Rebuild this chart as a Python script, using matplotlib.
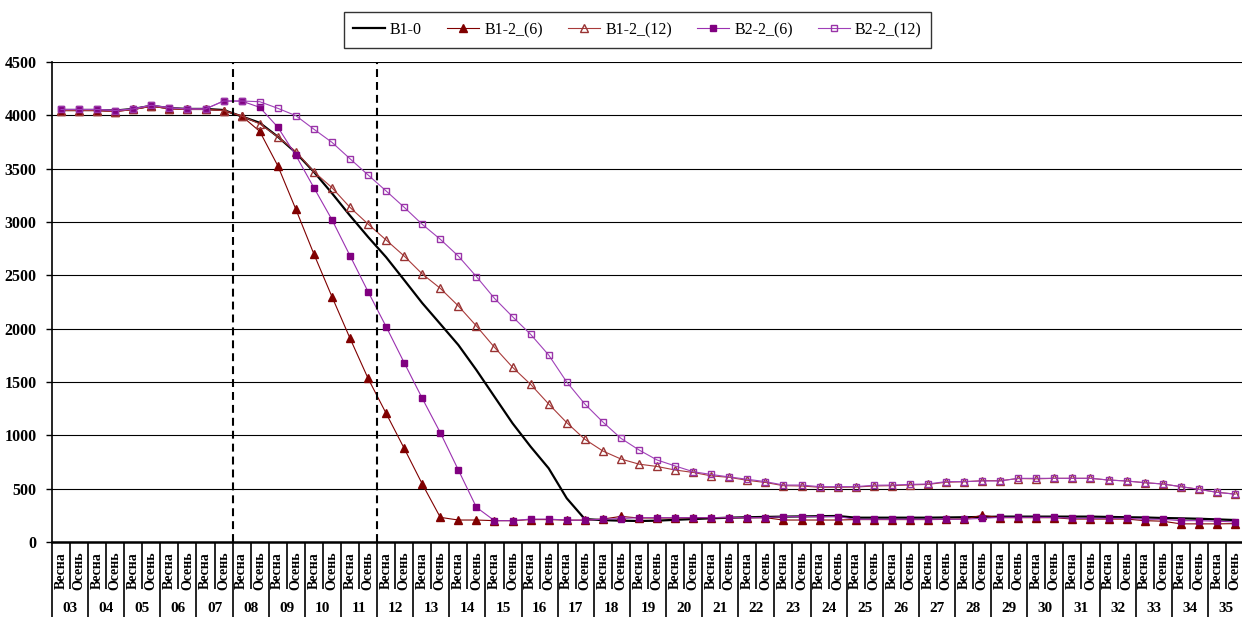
import matplotlib
matplotlib.use("Agg")
import matplotlib.pyplot as plt
from matplotlib.transforms import blended_transform_factory

# ---------------- data ----------------
years = ['03', '04', '05', '06', '07', '08', '09', '10', '11', '12', '13',
         '14', '15', '16', '17', '18', '19', '20', '21', '22', '23', '24',
         '25', '26', '27', '28', '29', '30', '31', '32', '33', '34', '35']
seasons = ['Весна', 'Осень']

b1_0 = [4050, 4050, 4050, 4045, 4060, 4090, 4068, 4060, 4060, 4050,
        3990, 3930, 3800, 3650, 3470, 3270, 3060, 2860, 2670, 2456,
        2240, 2044, 1847, 1612, 1362, 1113, 894, 691, 410, 215,
        205, 200, 197, 200, 208, 215, 222, 228, 232, 235,
        238, 240, 242, 244, 228, 228, 228, 228, 228, 230,
        232, 235, 238, 238, 238, 238, 238, 238, 235, 232,
        230, 225, 222, 218, 212, 206]

b1_2_6 = [4045, 4045, 4045, 4035, 4055, 4085, 4062, 4055, 4055, 4045,
          3994, 3850, 3528, 3120, 2700, 2300, 1910, 1534, 1206, 878,
          544, 231, 206, 206, 200, 200, 210, 210, 205, 205,
          215, 240, 225, 225, 225, 228, 228, 228, 228, 228,
          206, 206, 206, 206, 210, 210, 210, 210, 210, 212,
          215, 250, 228, 228, 228, 228, 215, 215, 215, 215,
          200, 195, 170, 170, 170, 172]

b1_2_12 = [4045, 4045, 4045, 4035, 4055, 4085, 4062, 4055, 4055, 4045,
           3994, 3920, 3800, 3660, 3472, 3322, 3137, 2981, 2831, 2681,
           2513, 2378, 2213, 2025, 1825, 1638, 1478, 1294, 1119, 963,
           853, 778, 730, 708, 675, 652, 620, 606, 578, 558,
           528, 525, 513, 513, 515, 525, 528, 535, 540, 560,
           565, 575, 575, 595, 592, 597, 597, 597, 581, 572,
           556, 544, 519, 494, 466, 450]

b2_2_6 = [4055, 4055, 4055, 4045, 4060, 4095, 4070, 4060, 4060, 4134,
          4134, 4075, 3890, 3625, 3322, 3022, 2684, 2347, 2019, 1681,
          1347, 1025, 675, 325, 200, 200, 215, 215, 205, 205,
          213, 220, 228, 228, 228, 228, 228, 228, 228, 228,
          238, 238, 238, 238, 213, 213, 213, 213, 213, 213,
          213, 222, 231, 231, 231, 231, 222, 222, 222, 222,
          213, 213, 200, 200, 195, 188]

b2_2_12 = [4055, 4055, 4055, 4045, 4060, 4095, 4070, 4060, 4060, 4134,
           4134, 4128, 4066, 3997, 3870, 3747, 3593, 3441, 3291, 3138,
           2978, 2838, 2680, 2488, 2284, 2112, 1947, 1753, 1500, 1294,
           1125, 972, 863, 769, 713, 659, 633, 610, 588, 566,
           534, 534, 519, 519, 519, 532, 534, 540, 544, 566,
           566, 572, 572, 597, 597, 597, 597, 597, 581, 572,
           556, 544, 519, 494, 466, 448]

series_names = ['B1-0', 'B1-2_(6)', 'B1-2_(12)', 'B2-2_(6)', 'B2-2_(12)']
phase_bounds = [9.5, 17.5]   # dashed vertical separators (category boundaries)
y_ticks = [0, 500, 1000, 1500, 2000, 2500, 3000, 3500, 4000, 4500]

# ---------------- figure ----------------
W, H = 1242, 617
fig = plt.figure(figsize=(W / 100, H / 100), dpi=100)
serif = ['Liberation Serif', 'DejaVu Serif']
plt.rcParams['font.family'] = serif

left_px, right_px, top_px, bot_px = 52, 1244, 62, 542
ax = fig.add_axes([left_px / W, (H - bot_px) / H,
                   (right_px - left_px) / W, (bot_px - top_px) / H])

n = len(years) * 2
x = list(range(n))

ax.plot(x, b1_0, color='black', lw=1.6, label=series_names[0], zorder=3)
ax.plot(x, b1_2_6, color='#800000', lw=0.8, marker='^', ms=6,
        mfc='#800000', mec='#800000', label=series_names[1], zorder=4)
ax.plot(x, b1_2_12, color='#A83A3A', lw=0.8, marker='^', ms=6,
        mfc='none', mec='#993333', mew=1.0, label=series_names[2], zorder=5)
ax.plot(x, b2_2_6, color='#9B30B0', lw=0.8, marker='s', ms=5,
        mfc='#800080', mec='#800080', label=series_names[3], zorder=6)
ax.plot(x, b2_2_12, color='#A040B8', lw=0.8, marker='s', ms=5,
        mfc='none', mec='#9933A8', mew=1.0, label=series_names[4], zorder=7)

for b in phase_bounds:
    ax.axvline(b, color='black', lw=1.5, ls=(0, (3.8, 2.4)), zorder=8)

ax.set_xlim(-0.5, n - 0.5)
ax.set_ylim(0, 4500)
ax.set_yticks(y_ticks)
ax.set_yticklabels([str(v) for v in y_ticks], fontweight='bold', fontsize=11.5)
ax.yaxis.grid(True, color='black', lw=0.8)
ax.set_axisbelow(True)
ax.tick_params(axis='y', direction='out', length=4, width=1, pad=7)

for s in ['top', 'right']:
    ax.spines[s].set_visible(False)
ax.spines['left'].set_linewidth(1.2)
ax.spines['bottom'].set_linewidth(1.8)

# x ticks: category separators (year boundaries long, season boundaries short)
major = [2 * k - 0.5 for k in range(len(years) + 1)]
minor = [2 * k + 0.5 for k in range(len(years))]
ax.set_xticks(major)
ax.set_xticklabels([])
ax.set_xticks(minor, minor=True)
ax.tick_params(axis='x', which='major', direction='out', length=60, width=1.2)
ax.tick_params(axis='x', which='minor', direction='out', length=34, width=1.2)

trans = blended_transform_factory(ax.transData, ax.transAxes)
for i in range(n):
    ax.text(i, -0.059, seasons[i % 2], rotation=90, ha='center', va='center',
            fontsize=10, fontweight='bold', transform=trans, clip_on=False)
for k, yr in enumerate(years):
    ax.text(2 * k + 0.5, -0.138, yr, ha='center', va='center',
            fontsize=11, fontweight='bold', transform=trans, clip_on=False)

leg = fig.legend(loc='center', bbox_to_anchor=(637.5 / W, 1 - 30 / H),
                 ncol=5, frameon=True, fancybox=False, edgecolor='black',
                 fontsize=11.5, handlelength=2.0, handletextpad=0.3,
                 columnspacing=1.6, borderpad=0.6)
leg.get_frame().set_linewidth(1.0)

fig.savefig('out.png', dpi=100)
